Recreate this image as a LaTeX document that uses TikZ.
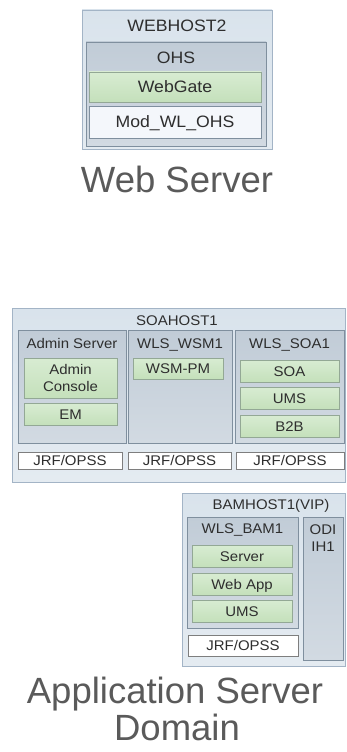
\documentclass[tikz,border=0pt]{standalone}
\usepackage{fontspec}
\setmainfont{Liberation Sans}
\newfontfamily\labfont[FakeStretch=1.07]{Liberation Sans}
\usetikzlibrary{fit,shadows}
\definecolor{hostline}{HTML}{A3B4C6}
\definecolor{hosttop}{HTML}{D9E3EC}
\definecolor{hostbot}{HTML}{E4EBF1}
\definecolor{srvline}{HTML}{7F8F9E}
\definecolor{srvtop}{HTML}{C1CCD7}
\definecolor{srvbot}{HTML}{D2DAE2}
\definecolor{itemline}{HTML}{93A895}
\definecolor{itemtop}{HTML}{D8ECD2}
\definecolor{itembot}{HTML}{C4E0BB}
\definecolor{plainline}{HTML}{7E7E7E}
\definecolor{ohsfill}{HTML}{F4F7FB}
\definecolor{labtext}{HTML}{2E2E2E}
\definecolor{bigtext}{HTML}{5A5A5A}
\tikzset{
  host/.style={draw=hostline, line width=0.8pt, top color=hosttop, bottom color=hostbot, inner sep=0pt},
  srv/.style={draw=srvline, line width=0.9pt, top color=srvtop, bottom color=srvbot, inner sep=0pt},
  item/.style={draw=itemline, line width=0.6pt, top color=itemtop, bottom color=itembot, inner sep=0pt,
    drop shadow={shadow xshift=0.8pt, shadow yshift=-0.9pt, fill=black, opacity=0.3}},
  plain/.style={draw=plainline, line width=0.7pt, fill=white, inner sep=0pt,
    drop shadow={shadow xshift=0.8pt, shadow yshift=-0.9pt, fill=black, opacity=0.3}},
  modbox/.style={draw=srvline, line width=0.7pt, fill=ohsfill, inner sep=0pt,
    drop shadow={shadow xshift=0.8pt, shadow yshift=-0.9pt, fill=black, opacity=0.3}},
  lab/.style={inner sep=0pt, text=labtext, text height=10pt, text depth=0pt,
    font=\labfont\fontsize{14}{17}\selectfont},
  toplab/.style={inner sep=0pt, text=labtext, text height=11.8pt, text depth=0pt,
    font=\labfont\fontsize{16.5}{19}\selectfont},
  big/.style={inner sep=0pt, text=bigtext, anchor=base, font=\fontsize{36.5}{40}\selectfont},
}
\begin{document}
\begin{tikzpicture}[x=1pt, y=-1pt]
\useasboundingbox (0,0) rectangle (346,752);
% ---------- Web server ----------
\node[host, fit={(82,10) (272,149)}] (webhost) {};
\node[toplab] (twebhost) at (177,26) {WEBHOST2};
\node[srv, fit={(86,42) (266,146)}] (ohs) {};
\node[toplab] (tohs) at (176,58) {OHS};
\node[item, fit={(89,72) (261,102)}] (webgate) {};
\node[toplab] (twebgate) at (webgate.center) {WebGate};
\node[modbox, fit={(89,106) (261,138)}] (mod) {};
\node[toplab] (tmod) at (mod.center) {Mod\_WL\_OHS};
\node[big] (webserver) at (177,192) {Web Server};
% ---------- SOAHOST1 ----------
\node[host, fit={(12,308) (345.5,482)}] (soahost) {};
\node[lab] (tsoahost) at (177,320) {SOAHOST1};
\node[srv, fit={(18,330) (126,443)}] (admin) {};
\node[lab] (tadmin) at (72,343) {Admin Server};
\node[item, fit={(24,358) (117,398)}] (console) {};
\node[lab] (tconsole1) at (70.5,369) {Admin};
\node[lab] (tconsole2) at (70.5,386) {Console};
\node[item, fit={(24,403) (117,425)}] (em) {};
\node[lab] (tem) at (em.center) {EM};
\node[srv, fit={(128,330) (232,443)}] (wsm) {};
\node[lab] (twsm) at (180,343) {WLS\_WSM1};
\node[item, fit={(133,358) (223,379)}] (wsmpm) {};
\node[lab] (twsmpm) at (wsmpm.center) {WSM-PM};
\node[srv, fit={(235,330) (344,443)}] (soa1) {};
\node[lab] (tsoa1) at (289.5,343) {WLS\_SOA1};
\node[item, fit={(240,360) (339,382)}] (soa) {};
\node[lab] (tsoa) at (soa.center) {SOA};
\node[item, fit={(240,387) (339,409)}] (ums1) {};
\node[lab] (tums1) at (ums1.center) {UMS};
\node[item, fit={(240,415) (339,437)}] (b2b) {};
\node[lab] (tb2b) at (b2b.center) {B2B};
\node[plain, fit={(18,452) (122,469)}] (jrf1) {};
\node[lab] (tjrf1) at (jrf1.center) {JRF/OPSS};
\node[plain, fit={(128,452) (231,469)}] (jrf2) {};
\node[lab] (tjrf2) at (jrf2.center) {JRF/OPSS};
\node[plain, fit={(236,452) (344,469)}] (jrf3) {};
\node[lab] (tjrf3) at (jrf3.center) {JRF/OPSS};
% ---------- BAMHOST1 ----------
\node[host, fit={(182,493) (345.5,666)}] (bamhost) {};
\node[lab] (tbamhost) at (271,504) {BAMHOST1(VIP)};
\node[srv, fit={(187,517) (298,628)}] (bam) {};
\node[lab] (tbam) at (242.5,528) {WLS\_BAM1};
\node[item, fit={(192,545) (292,567)}] (server) {};
\node[lab] (tserver) at (server.center) {Server};
\node[item, fit={(192,573) (292,595)}] (webapp) {};
\node[lab] (twebapp) at (webapp.center) {Web App};
\node[item, fit={(192,600) (292,622)}] (ums2) {};
\node[lab] (tums2) at (ums2.center) {UMS};
\node[plain, fit={(188,635) (298,656)}] (jrf4) {};
\node[lab] (tjrf4) at (jrf4.center) {JRF/OPSS};
\node[srv, fit={(303,517) (343,660)}] (odi) {};
\node[lab] (todi1) at (323,529) {ODI};
\node[lab] (todi2) at (323,546) {IH1};
\node[big] (app1) at (175,703) {Application Server};
\node[big] (app2) at (177,740) {Domain};
\end{tikzpicture}
\end{document}
